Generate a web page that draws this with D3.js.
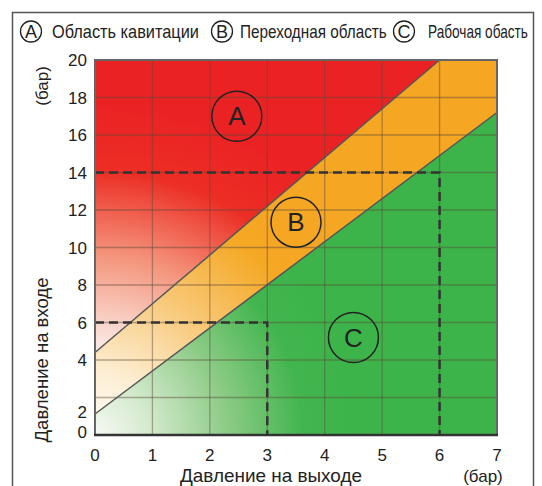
<!DOCTYPE html>
<html><head><meta charset="utf-8">
<script src="https://cdn.jsdelivr.net/npm/d3@7"></script>
<style>
html,body{margin:0;padding:0;background:#fff;}
svg{display:block;}
text{font-family:"Liberation Sans",Arial,sans-serif;fill:#222;}
</style></head>
<body><svg id="chart" width="542" height="486"></svg>
<script>
// ---- data ----
const xTicks = [0,1,2,3,4,5,6,7];
const yGrid = [0,2,4,6,8,10,12,14,16,18,20];
const yTickLabels = ["0","2","4","6","8","10","12","14","16","18","20"];
const yTickLabelPos = [0.15,1.25,4,6,8,10,12,14,16,18,20];
const upperBoundary = [[0,4.4],[6,20]];   // A / B
const lowerBoundary = [[0,1.12],[7,17.2]]; // B / C
const regionA = [[0,4.4],[6,20],[0,20]];
const regionB = [[0,1.12],[7,17.2],[7,20],[6,20],[0,4.4]];
const regionC = [[0,0],[7,0],[7,17.2],[0,1.12]];
const dashed14 = [[0,14],[6,14],[6,0]];
const dashed6 = [[0,6],[3,6],[3,0]];
const regionLabels = ["A","B","C"];
const regionLabelPos = [[2.47,17.0],[3.5,11.35],[4.5,5.2]];
const legendLetters = ["A","B","C"];
const legendTexts = ["Область кавитации","Переходная область","Рабочая обасть"];
const xTitle = "Давление на выходе";
const yTitle = "Давление на входе";
const unit = "(бар)";

// ---- layout ----
const svg = d3.select("#chart");
const L = 95, R = 497, T = 60, B = 435;
const x = d3.scaleLinear().domain([0,7]).range([L,R]);
const y = d3.scaleLinear().domain([0,20]).range([B,T]);

// outer frame
svg.append("path").attr("d",`M12.5,490 V12.5 H533.5 V490`)
  .attr("fill","none").attr("stroke","#555").attr("stroke-width",1.5);

// gradients
const defs = svg.append("defs");
function radial(id, stops, r){
  const g = defs.append("radialGradient").attr("id",id)
    .attr("gradientUnits","userSpaceOnUse")
    .attr("cx",x(0)).attr("cy",y(0)).attr("r",r).attr("fx",x(0)).attr("fy",y(0));
  stops.forEach(s=>g.append("stop").attr("offset",s[0]).attr("stop-color",s[1]));
}
radial("gA",[[0,"#ffffff"],[0.28,"#fbe6e0"],[0.55,"#f4937a"],[0.8,"#ec2e25"],[1,"#eb2224"]],330);
radial("gB",[[0,"#fffdf8"],[0.2,"#fdefd6"],[0.5,"#f8c97a"],[0.8,"#f5a824"],[1,"#f5a623"]],300);
radial("gC",[[0,"#f6f9f3"],[0.2,"#d6ebd0"],[0.5,"#8fcc88"],[0.8,"#42b54e"],[1,"#3cb44a"]],260);

const line = d3.line().x(d=>x(d[0])).y(d=>y(d[1]));
const area = d3.line().x(d=>x(d[0])).y(d=>y(d[1])).curve(d3.curveLinearClosed);

svg.append("path").attr("d",area(regionA)).attr("fill","url(#gA)");
svg.append("path").attr("d",area(regionB)).attr("fill","url(#gB)");
svg.append("path").attr("d",area(regionC)).attr("fill","url(#gC)");

// grid
const grid = svg.append("g").attr("stroke","#5a4a3a").attr("stroke-opacity",0.45).attr("stroke-width",1.3);
xTicks.slice(1,-1).forEach(v=>grid.append("line").attr("x1",x(v)).attr("x2",x(v)).attr("y1",T).attr("y2",B));
yGrid.slice(1,-1).forEach(v=>grid.append("line").attr("x1",L).attr("x2",R).attr("y1",y(v)).attr("y2",y(v)));

// boundaries
[upperBoundary, lowerBoundary].forEach(d=>svg.append("path").attr("d",line(d))
  .attr("fill","none").attr("stroke","#555").attr("stroke-width",1.5));

// dashed guides
[dashed14, dashed6].forEach(d=>svg.append("path").attr("d",line(d))
  .attr("fill","none").attr("stroke","#333").attr("stroke-width",2.5).attr("stroke-dasharray","9,5"));

// plot frame
svg.append("rect").attr("x",L).attr("y",T).attr("width",R-L).attr("height",B-T)
  .attr("fill","none").attr("stroke","#666").attr("stroke-width",2);
svg.append("line").attr("x1",L-1).attr("x2",R+1).attr("y1",B).attr("y2",B)
  .attr("stroke","#333").attr("stroke-width",2.5);

// region labels
regionLabels.forEach((t,i)=>{
  const cx = x(regionLabelPos[i][0]), cy = y(regionLabelPos[i][1]);
  svg.append("circle").attr("cx",cx).attr("cy",cy).attr("r",25)
    .attr("fill","none").attr("stroke","#222").attr("stroke-width",1.5);
  svg.append("text").attr("x",cx).attr("y",cy+9).attr("text-anchor","middle")
    .attr("font-size",26).text(t);
});

// x ticks
xTicks.forEach(v=>svg.append("text").attr("x",x(v)).attr("y",461)
  .attr("text-anchor","middle").attr("font-size",17).text(v));
// y ticks
yTickLabels.forEach((t,i)=>svg.append("text").attr("x",87).attr("y",y(yTickLabelPos[i])+6)
  .attr("text-anchor","end").attr("font-size",17).text(t));

// scaled-width text helper (condensed look)
function fitText(parent, tx, ty, rot, anchor, size, width, str){
  const g = parent.append("g");
  const t = g.append("text").attr("font-size",size).attr("text-anchor",anchor).text(str);
  const w = t.node().getComputedTextLength();
  const s = width / w;
  g.attr("transform",`translate(${tx},${ty}) rotate(${rot}) scale(${s},1)`);
  return g;
}

// titles
fitText(svg, 271, 482, 0, "middle", 18, 182, xTitle);
svg.append("text").attr("x",483).attr("y",482).attr("text-anchor","middle").attr("font-size",17).text(unit);
fitText(svg, 48, 360, -90, "middle", 18, 165, yTitle);
svg.append("text").attr("transform","translate(48,86) rotate(-90)").attr("text-anchor","middle").attr("font-size",17).text(unit);

// legend
const legCx = [31,222,404];
const legTx = [52,240,428];
const legTw = [147,147,100];
legendLetters.forEach((t,i)=>{
  svg.append("circle").attr("cx",legCx[i]).attr("cy",31.5).attr("r",10.5)
    .attr("fill","none").attr("stroke","#222").attr("stroke-width",1.3);
  svg.append("text").attr("x",legCx[i]).attr("y",38).attr("text-anchor","middle").attr("font-size",18).text(t);
  fitText(svg, legTx[i], 38, 0, "start", 18, legTw[i], legendTexts[i]);
});
</script></body></html>
